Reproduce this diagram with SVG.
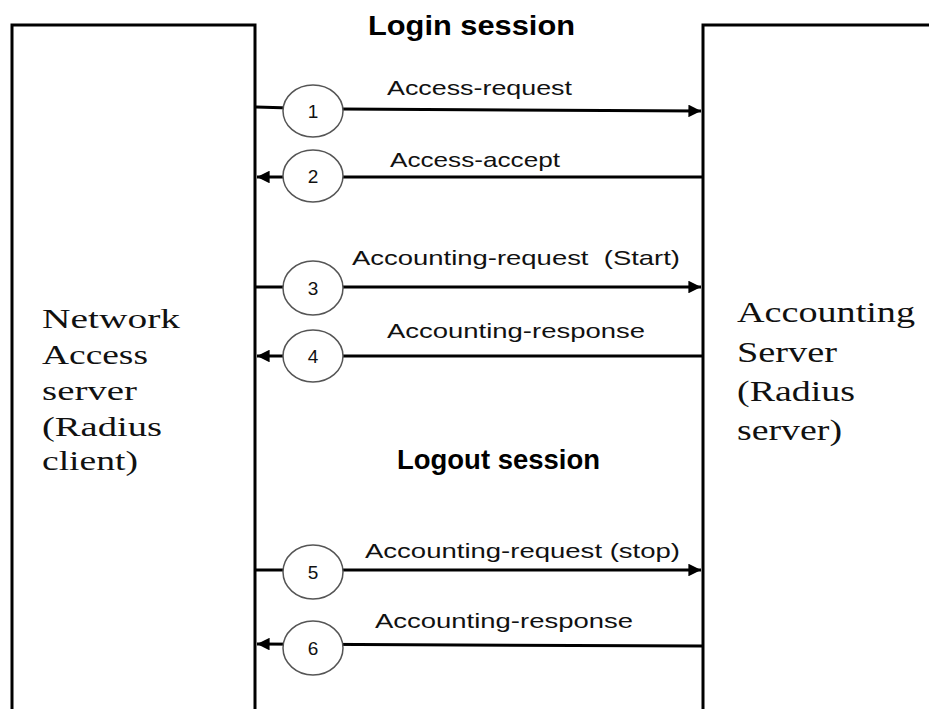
<svg xmlns="http://www.w3.org/2000/svg" width="929" height="709" viewBox="0 0 929 709">
  <style>
    .frame { fill: none; stroke: #000; stroke-width: 3; }
    .msg { fill: none; stroke: #000; stroke-width: 3; }
    .step { fill: #fff; stroke: #555; stroke-width: 1.5; }
    .num { font-family: "Liberation Sans", Arial, sans-serif; font-size: 19px; fill: #111; text-anchor: middle; }
    .lbl { font-family: "Liberation Sans", Arial, sans-serif; font-size: 21px; fill: #111; }
    .head { font-family: "Liberation Sans", Arial, sans-serif; font-size: 27px; font-weight: bold; fill: #000; }
    .box-l { font-family: "Liberation Serif", "Times New Roman", serif; font-size: 27px; fill: #111; }
    .box-r { font-family: "Liberation Serif", "Times New Roman", serif; font-size: 29px; fill: #111; }
  </style>
  <defs>
    <marker id="arrow" viewBox="0 0 10 10" refX="10" refY="5" markerWidth="5" markerHeight="4.2" markerUnits="strokeWidth" orient="auto">
      <path d="M0,0 L10,5 L0,10 z" fill="#000"/>
    </marker>
  </defs>
  <rect width="929" height="709" fill="#fff"/>

  <!-- client box -->
  <g id="nas">
    <path class="frame" d="M12,712 V25 H255 V712"/>
    <text class="box-l" x="42" y="328" textLength="138" lengthAdjust="spacingAndGlyphs">Network</text>
    <text class="box-l" x="42" y="364" textLength="106" lengthAdjust="spacingAndGlyphs">Access</text>
    <text class="box-l" x="42" y="400" textLength="95" lengthAdjust="spacingAndGlyphs">server</text>
    <text class="box-l" x="42" y="436" textLength="120" lengthAdjust="spacingAndGlyphs">(Radius</text>
    <text class="box-l" x="42" y="470" textLength="96" lengthAdjust="spacingAndGlyphs">client)</text>
  </g>

  <!-- server box -->
  <g id="accounting-server">
    <path class="frame" d="M703,712 V25 H932"/>
    <text class="box-r" x="737" y="322" textLength="178" lengthAdjust="spacingAndGlyphs">Accounting</text>
    <text class="box-r" x="737" y="362" textLength="100" lengthAdjust="spacingAndGlyphs">Server</text>
    <text class="box-r" x="737" y="401" textLength="118" lengthAdjust="spacingAndGlyphs">(Radius</text>
    <text class="box-r" x="737" y="440" textLength="105" lengthAdjust="spacingAndGlyphs">server)</text>
  </g>

  <!-- section headings -->
  <g id="login-heading">
    <text class="head" x="368" y="35" textLength="207" lengthAdjust="spacingAndGlyphs">Login session</text>
  </g>
  <g id="logout-heading">
    <text class="head" x="397" y="469" textLength="203" lengthAdjust="spacingAndGlyphs">Logout session</text>
  </g>

  <!-- message lines -->
  <g id="connectors">
    <path class="msg" d="M256,107 L290,108"/>
    <path class="msg" d="M340,109 L701,111" marker-end="url(#arrow)"/>
    <path class="msg" d="M703,177 L257,177" marker-end="url(#arrow)"/>
    <path class="msg" d="M256,287 L701,287" marker-end="url(#arrow)"/>
    <path class="msg" d="M703,356 L257,356" marker-end="url(#arrow)"/>
    <path class="msg" d="M256,570 L701,570" marker-end="url(#arrow)"/>
    <path class="msg" d="M703,646 L257,644" marker-end="url(#arrow)"/>
  </g>

  <!-- message labels -->
  <g id="labels">
    <text class="lbl" x="387" y="95" textLength="185" lengthAdjust="spacingAndGlyphs">Access-request</text>
    <text class="lbl" x="390" y="167" textLength="170" lengthAdjust="spacingAndGlyphs">Access-accept</text>
    <text class="lbl" x="352" y="265" textLength="328" lengthAdjust="spacingAndGlyphs" xml:space="preserve">Accounting-request  (Start)</text>
    <text class="lbl" x="387" y="338" textLength="258" lengthAdjust="spacingAndGlyphs">Accounting-response</text>
    <text class="lbl" x="365" y="558" textLength="315" lengthAdjust="spacingAndGlyphs">Accounting-request (stop)</text>
    <text class="lbl" x="375" y="628" textLength="258" lengthAdjust="spacingAndGlyphs">Accounting-response</text>
  </g>

  <!-- numbered steps -->
  <g id="step-1"><ellipse class="step" cx="313" cy="111" rx="30" ry="26"/><text class="num" x="313" y="118">1</text></g>
  <g id="step-2"><ellipse class="step" cx="313" cy="176" rx="30" ry="26"/><text class="num" x="313" y="183">2</text></g>
  <g id="step-3"><ellipse class="step" cx="313" cy="288" rx="30" ry="27"/><text class="num" x="313" y="295">3</text></g>
  <g id="step-4"><ellipse class="step" cx="313" cy="356" rx="30" ry="26"/><text class="num" x="313" y="363">4</text></g>
  <g id="step-5"><ellipse class="step" cx="313" cy="572" rx="30" ry="27"/><text class="num" x="313" y="579">5</text></g>
  <g id="step-6"><ellipse class="step" cx="313" cy="648" rx="30" ry="27"/><text class="num" x="313" y="655">6</text></g>
</svg>
